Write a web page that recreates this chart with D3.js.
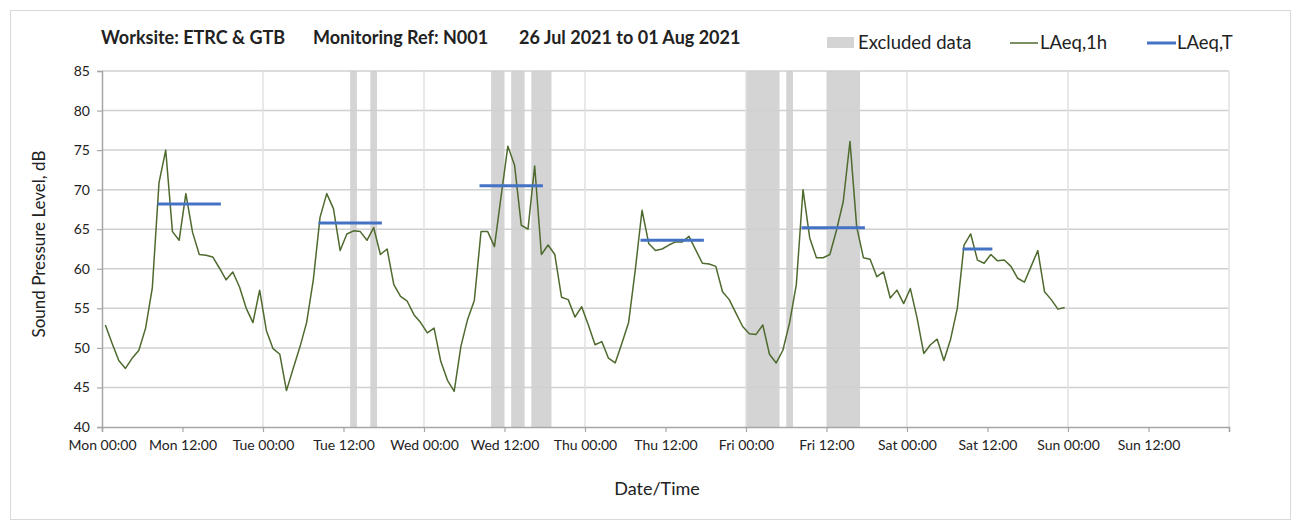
<!DOCTYPE html>
<html><head><meta charset="utf-8">
<script src="https://cdn.jsdelivr.net/npm/d3@7"></script>
<style>
html,body{margin:0;padding:0;background:#fff;}
svg text{font-family:Lato,"Open Sans",sans-serif;fill:#222;}
</style></head>
<body><svg id="chart" width="1301" height="526"></svg>
<script>
const titleParts = ["Worksite: ETRC & GTB", "Monitoring Ref: N001", "26 Jul 2021 to 01 Aug 2021"];
const xTickLabels = ["Mon 00:00","Mon 12:00","Tue 00:00","Tue 12:00","Wed 00:00","Wed 12:00",
  "Thu 00:00","Thu 12:00","Fri 00:00","Fri 12:00","Sat 00:00","Sat 12:00","Sun 00:00","Sun 12:00",""];
const yTicks = [40,45,50,55,60,65,70,75,80,85];
// hourly LAeq,1h values from Mon 00:00 (hour index 0..143)
const laeq1h = [
 52.9,50.6,48.4,47.4,48.7,49.7,52.5,57.6,70.9,75.0,64.7,63.6,69.5,64.6,61.8,61.7,61.5,60.1,58.6,59.6,57.7,55.0,53.2,57.3,
 52.2,49.9,49.2,44.6,47.4,50.1,53.2,58.6,66.5,69.5,67.6,62.3,64.4,64.8,64.7,63.6,65.2,61.8,62.5,58.0,56.5,55.9,54.2,53.2,
 51.9,52.5,48.3,45.9,44.5,50.2,53.6,56.0,64.7,64.7,62.8,69.2,75.5,73.1,65.5,65.0,73.0,61.8,63.0,61.8,56.4,56.1,53.9,55.2,
 52.9,50.4,50.8,48.7,48.1,50.6,53.2,59.9,67.4,63.2,62.3,62.5,63.0,63.4,63.4,64.1,62.4,60.7,60.6,60.3,57.1,56.1,54.4,52.7,
 51.8,51.7,52.9,49.2,48.1,49.7,53.2,58.0,70.0,63.9,61.4,61.4,61.8,64.9,68.5,76.1,65.3,61.4,61.2,59.0,59.6,56.3,57.3,55.6,
 57.5,53.8,49.3,50.4,51.1,48.4,51.1,55.0,63.0,64.4,61.1,60.7,61.8,61.0,61.1,60.3,58.8,58.3,60.3,62.3,57.1,56.1,54.9,55.1];
// LAeq,T over the working-hours period of each day (hours from Mon 00:00)
const laeqTStart = [8, 32, 56, 80, 104, 128];
const laeqTEnd   = [18, 42, 66, 90, 114, 133];
const laeqTValue = [68.2, 65.8, 70.5, 63.6, 65.2, 62.5];
// excluded data periods (hours from Mon 00:00)
const exclStart = [37, 40, 58, 61, 64, 96, 102, 108];
const exclEnd   = [38, 41, 60, 63, 67, 101, 103, 113];
const legendLabels = ["Excluded data", "LAeq,1h", "LAeq,T"];

const svg = d3.select("#chart");
const L = 102, R = 1229, T = 71, B = 427;
const x = d3.scaleLinear().domain([0, 168]).range([L, R]);
const y = d3.scaleLinear().domain([40, 85]).range([B, T]);

// frame
svg.append("rect").attr("x",10.5).attr("y",10.5).attr("width",1280).attr("height",509)
  .attr("fill","none").attr("stroke","#d9d9d9");

// excluded bands
svg.append("g").selectAll("rect").data(exclStart).join("rect")
  .attr("x",(d)=>x(d)).attr("width",(d,i)=>x(exclEnd[i])-x(d))
  .attr("y",T).attr("height",B-T).attr("fill","#d4d4d4");

// gridlines
svg.append("g").selectAll("line").data(yTicks.filter(v=>v>40)).join("line")
  .attr("x1",L).attr("x2",R).attr("y1",d=>y(d)).attr("y2",d=>y(d))
  .attr("stroke","#d0d0d0").attr("stroke-width",1.5);
svg.append("g").selectAll("line").data(d3.range(24,169,24)).join("line")
  .attr("x1",d=>x(d)).attr("x2",d=>x(d)).attr("y1",T).attr("y2",B)
  .attr("stroke","#e2e2e2").attr("stroke-width",1.5);

// axes
const yAxis = d3.axisLeft(y).tickValues(yTicks).tickSize(5).tickPadding(7).tickFormat(d3.format("d"));
const gy = svg.append("g").attr("transform",`translate(${L},0)`).call(yAxis);
const xAxis = d3.axisBottom(x).tickValues(d3.range(0,169,12)).tickSize(5).tickPadding(8)
  .tickFormat((d,i)=>xTickLabels[i]);
const gx = svg.append("g").attr("transform",`translate(0,${B})`).call(xAxis);
[gx,gy].forEach(g=>{
  g.select(".domain").attr("stroke","#a6a6a6").attr("stroke-width",1.5);
  g.selectAll(".tick line").attr("stroke","#a6a6a6").attr("stroke-width",1.2);
  g.selectAll("text").attr("font-family","Lato, sans-serif").attr("font-size",14).attr("fill","#222");
});

// LAeq,1h line
const line = d3.line().x((d,i)=>x(i+0.5)).y(d=>y(d));
svg.append("path").datum(laeq1h).attr("d",line).attr("fill","none")
  .attr("stroke","#4f6a2e").attr("stroke-width",1.5).attr("stroke-linejoin","round");

// LAeq,T
svg.append("g").selectAll("line").data(laeqTValue).join("line")
  .attr("x1",(d,i)=>x(laeqTStart[i]+0.5)).attr("x2",(d,i)=>x(laeqTEnd[i]-0.5))
  .attr("y1",d=>y(d)).attr("y2",d=>y(d))
  .attr("stroke","#4472c4").attr("stroke-width",3).attr("stroke-linecap","square");

// title
const tx = [101, 313, 519];
svg.append("g").selectAll("text").data(titleParts).join("text")
  .attr("x",(d,i)=>tx[i]).attr("y",44).attr("font-size",18).attr("font-weight","bold")
  .text(d=>d);

// legend
const lg = svg.append("g");
lg.append("rect").attr("x",827).attr("y",37).attr("width",27).attr("height",11).attr("fill","#d4d4d4");
lg.append("line").attr("x1",1010).attr("x2",1038).attr("y1",43).attr("y2",43).attr("stroke","#4f6a2e").attr("stroke-width",1.5);
lg.append("line").attr("x1",1147).attr("x2",1176).attr("y1",43).attr("y2",43).attr("stroke","#4472c4").attr("stroke-width",3);
const lx = [858, 1040, 1177];
lg.selectAll("text").data(legendLabels).join("text")
  .attr("x",(d,i)=>lx[i]).attr("y",49).attr("font-size",18.5).text(d=>d);

// axis titles
svg.append("text").attr("transform","translate(45,244) rotate(-90)").attr("text-anchor","middle")
  .attr("font-size",17).text("Sound Pressure Level, dB");
svg.append("text").attr("x",657).attr("y",495).attr("text-anchor","middle")
  .attr("font-size",18).text("Date/Time");
</script></body></html>
